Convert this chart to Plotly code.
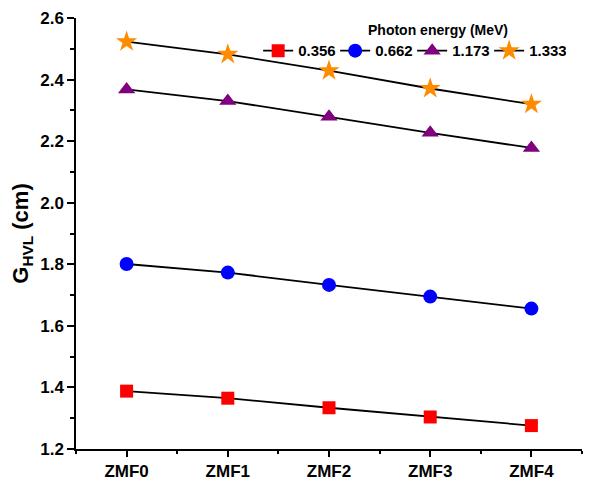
import plotly.graph_objects as go

categories = ["ZMF0", "ZMF1", "ZMF2", "ZMF3", "ZMF4"]
energies = ["0.356", "0.662", "1.173", "1.333"]
g_0356 = [1.388, 1.365, 1.334, 1.304, 1.276]
g_0662 = [1.801, 1.773, 1.733, 1.695, 1.656]
g_1173 = [2.368, 2.330, 2.279, 2.227, 2.178]
g_1333 = [2.523, 2.482, 2.429, 2.371, 2.320]

series = [g_0356, g_0662, g_1173, g_1333]
symbols = ["square", "circle", "triangle-up", "star"]
colors = ["#FF0000", "#0000FF", "#800080", "#FF8C00"]
sizes = [13, 14, 15, 16]

xs = list(range(len(categories)))
fig = go.Figure()
for name, vals, sym, col, sz in zip(energies, series, symbols, colors, sizes):
    fig.add_trace(go.Scatter(
        x=xs, y=vals, name="<b>%s</b>" % name, mode="lines+markers",
        line=dict(color="black", width=1.8),
        marker=dict(symbol=sym, color=col, size=sz, line=dict(width=0)),
    ))

font_fam = "Liberation Sans, Arial, sans-serif"
fig.update_layout(
    width=612, height=483,
    margin=dict(l=68, r=38, t=10, b=42),
    plot_bgcolor="white", paper_bgcolor="white",
    font=dict(family=font_fam, color="black", size=14),
    legend=dict(
        orientation="h", x=0.36, y=0.962, xanchor="left", yanchor="top",
        bgcolor="rgba(0,0,0,0)",
        font=dict(size=15),
        itemwidth=30, tracegroupgap=0, entrywidth=32,
    ),
    annotations=[dict(
        text="<b>Photon energy (MeV)</b>", xref="paper", yref="paper",
        x=0.715, y=0.972, xanchor="center", yanchor="middle",
        showarrow=False, font=dict(size=14),
    )],
)
fig.update_xaxes(
    range=[-0.5, 4.5], tickmode="array", tickvals=xs,
    ticktext=["<b>%s</b>" % c for c in categories],
    showline=True, linecolor="black", linewidth=1.5, mirror=False,
    ticks="outside", ticklen=6, tickwidth=1.5, tickcolor="black",
    showgrid=False, zeroline=False, automargin=False,
    minor=dict(tickmode="linear", tick0=0.5, dtick=1, ticks="outside", ticklen=3, tickwidth=1.5, tickcolor="black", showgrid=False),
    tickfont=dict(size=17),
)
fig.update_yaxes(
    range=[1.2, 2.6], tickmode="linear", tick0=1.2, dtick=0.2, tickformat=".1f",
    showline=True, linecolor="black", linewidth=1.5, mirror=False,
    ticks="outside", ticklen=7, tickwidth=1.5, tickcolor="black",
    showgrid=False, zeroline=False, automargin=False,
    minor=dict(tickmode="linear", tick0=1.3, dtick=0.2, ticks="outside", ticklen=4, tickwidth=1.5, tickcolor="black", showgrid=False),
    tickfont=dict(size=17, weight="bold"),
    title=dict(text="<b>G<sub>HVL</sub> (cm)</b>", font=dict(size=22), standoff=13),
)
fig.write_html("out.html")
